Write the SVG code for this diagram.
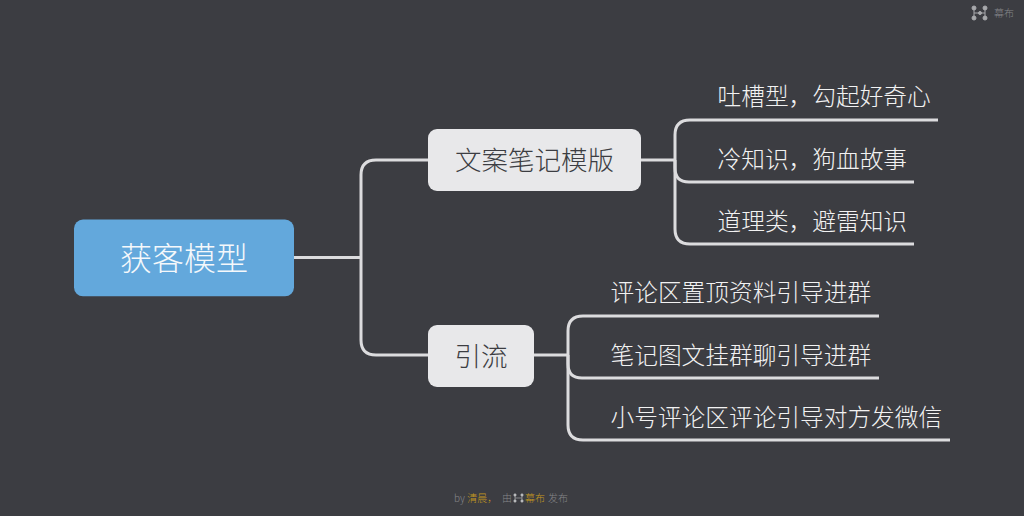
<svg xmlns="http://www.w3.org/2000/svg" width="1024" height="516" viewBox="0 0 1024 516">
<style>
text{font-family:"Noto Sans CJK SC","Liberation Sans",sans-serif;font-weight:300}
.c{fill:none;stroke:#dcdcde;stroke-width:3}
.l{fill:#f2f2f2;font-size:23.700px}
.s{fill:#3c3d42;font-size:26.500px;text-anchor:middle}
.f{font-size:10px;fill:#85868a}
.y{fill:#c59a1e}
.d{fill:#a8a9ac;stroke:#a8a9ac}
.m{fill:#bbbcbe;stroke:#bbbcbe}
</style>
<rect width="1024" height="516" fill="#3c3d42"/>
<g id="connectors">
<path class="c" d="M294 257.500H361"/>
<path class="c" d="M428 160H376Q361 160 361 175V340Q361 355 376 355H428"/>
<path class="c" d="M641 160H675"/>
<path class="c" d="M938 120H690Q675 120 675 135V168Q675 182 689 182H914"/>
<path class="c" d="M675 160V229Q675 244 690 244H914"/>
<path class="c" d="M534 355H568"/>
<path class="c" d="M879 316H583Q568 316 568 331V364Q568 378 582 378H879"/>
<path class="c" d="M568 355V425Q568 440 583 440H950"/>
</g>
<g id="root"><rect x="74" y="219.500" width="220" height="76.800" rx="9" fill="#63a8dc"/><text x="184" y="270" fill="#f5f8fb" font-size="32" text-anchor="middle">获客模型</text></g>
<g id="n1"><rect x="428" y="129" width="213" height="62" rx="9" fill="#e8e8ea"/><text class="s" x="534.500" y="170">文案笔记模版</text></g>
<g id="n2"><rect x="428" y="325" width="106" height="62" rx="9" fill="#e8e8ea"/><text class="s" x="481" y="366">引流</text></g>
<g id="n1a"><text class="l" x="717.500" y="105">吐槽型，勾起好奇心</text></g>
<g id="n1b"><text class="l" x="717.500" y="168">冷知识，狗血故事</text></g>
<g id="n1c"><text class="l" x="717.500" y="230">道理类，避雷知识</text></g>
<g id="n2a"><text class="l" x="610.500" y="301">评论区置顶资料引导进群</text></g>
<g id="n2b"><text class="l" x="610.500" y="364">笔记图文挂群聊引导进群</text></g>
<g id="n2c"><text class="l" x="610.500" y="426">小号评论区评论引导对方发微信</text></g>
<g id="watermark">
<g class="d" stroke-width="1"><path fill="none" d="M974 8V18M985 8V18M974 13H985"/><circle cx="974" cy="8" r="2"/><circle cx="985" cy="8" r="2"/><circle cx="974" cy="18" r="2"/><circle cx="985" cy="18" r="2"/><circle cx="980" cy="13" r="1.500"/></g>
<text class="f" x="994" y="17">幕布</text>
</g>
<g id="footer">
<text class="f" x="454" y="502">by <tspan class="y">清晨，</tspan></text>
<text class="f" x="502" y="502">由</text>
<g class="m" stroke-width=".6"><path fill="none" d="M515 495V501M522 495V501M515 498H522"/><circle cx="515" cy="495" r="1.200"/><circle cx="522" cy="495" r="1.200"/><circle cx="515" cy="501" r="1.200"/><circle cx="522" cy="501" r="1.200"/></g>
<text class="f y" x="525" y="502" style="fill:#c59a1e">幕布</text>
<text class="f" x="548" y="502">发布</text>
</g>
</svg>
